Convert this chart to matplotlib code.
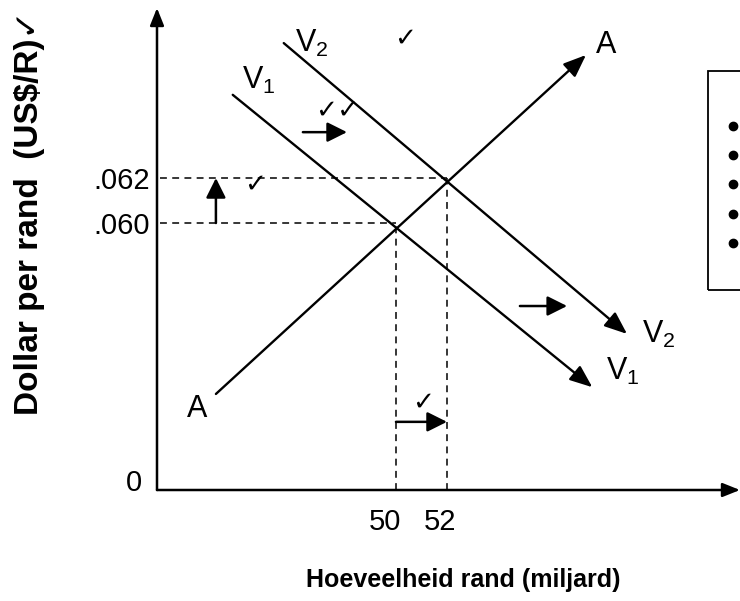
import matplotlib
matplotlib.use("Agg")
import matplotlib.pyplot as plt
from matplotlib.patches import Rectangle

plt.rcParams['font.family'] = ['Liberation Sans', 'DejaVu Sans']
plt.rcParams['mathtext.fontset'] = 'custom'
plt.rcParams['mathtext.rm'] = 'Liberation Sans'
plt.rcParams['mathtext.default'] = 'regular'

# quantity (miljard rand) and price (US$/R) values
q_eq = [50, 52]
p_eq = [0.060, 0.062]

# curve end points: (start q, start p) -> (end q, end p)
v1_q = [43.6, 57.7]
v1_p = [0.0657, 0.0527]
v2_q = [45.6, 59.06]
v2_p = [0.0680, 0.05507]
a_q = [42.94, 57.45]
a_p = [0.0524, 0.06747]

# curve labels
lab_text = ['V$_1$', 'V$_2$', 'A', 'A', 'V$_2$', 'V$_1$']
lab_q = [43.96, 46.04, 57.84, 41.80, 59.65, 58.24]
lab_p = [0.06596, 0.0676, 0.06756, 0.05138, 0.05467, 0.05302]

# tick marks (memo checks)
chk_text = ['\u2713', '\u2713\u2713', '\u2713', '\u2713']
chk_q = [50.35, 47.69, 44.47, 51.06]
chk_p = [0.06822, 0.06502, 0.06169, 0.0520]

# shift arrows
shift_q0 = [46.35, 54.86]
shift_q1 = [48.08, 56.71]
shift_p = [0.06404, 0.05631]
up_q = 42.94
bottom_p = 0.05116

# box with bullets on the right
box_q = 62.24
box_p = [0.05702, 0.06676]
bullet_q = 63.22
bullet_p = [0.06431, 0.06302, 0.06173, 0.0604, 0.05911]

xmin, xmax = 40.63, 63.49
ymin, ymax = 0.04813, 0.06956

fig = plt.figure(figsize=(7.4, 6.01), dpi=100)
ax = fig.add_axes([157 / 740, 111 / 601, 583 / 740, 482 / 601])
ax.set_xlim(xmin, xmax)
ax.set_ylim(ymin, ymax)
for s in ax.spines.values():
    s.set_visible(False)

axis_arrow = dict(arrowstyle='-|>,head_length=0.5,head_width=0.2', lw=1.8,
                  color='black', mutation_scale=21, shrinkA=0, shrinkB=0)
ax.annotate('', xy=(0, 1), xytext=(0, 0), xycoords='axes fraction', arrowprops=axis_arrow, annotation_clip=False)
ax.annotate('', xy=(1, 0), xytext=(0, 0), xycoords='axes fraction', arrowprops=axis_arrow, annotation_clip=False)

line_arrow = dict(arrowstyle='-|>,head_length=0.55,head_width=0.22', lw=1.7,
                  color='black', mutation_scale=25, shrinkA=0, shrinkB=0)

# demand curves with arrowheads, supply curve
ax.annotate('', xy=(v1_q[1], v1_p[1]), xytext=(v1_q[0], v1_p[0]), arrowprops=line_arrow)
ax.annotate('', xy=(v2_q[1], v2_p[1]), xytext=(v2_q[0], v2_p[0]), arrowprops=line_arrow)
ax.annotate('', xy=(a_q[1], a_p[1]), xytext=(a_q[0], a_p[0]), arrowprops=line_arrow)

# dashed guide lines
dash = dict(color='black', lw=1.1, linestyle=(0, (4.5, 3.5)))
for q, p in zip(q_eq, p_eq):
    ax.plot([xmin + 0.12, q], [p, p], **dash)
    ax.plot([q, q], [ymin, p], **dash)

small_arrow = dict(arrowstyle='-|>,head_length=0.6,head_width=0.3', lw=1.8,
                   color='black', mutation_scale=20, shrinkA=0, shrinkB=0)
for q0, q1, p in zip(shift_q0, shift_q1, shift_p):
    ax.annotate('', xy=(q1, p), xytext=(q0, p), arrowprops=small_arrow)
ax.annotate('', xy=(up_q, p_eq[1]), xytext=(up_q, p_eq[0]), arrowprops=small_arrow)
ax.annotate('', xy=(q_eq[1], bottom_p), xytext=(q_eq[0], bottom_p), arrowprops=small_arrow)

for t, q, p in zip(lab_text, lab_q, lab_p):
    ax.text(q, p, t, fontsize=22, ha='left', va='baseline')

for t, q, p in zip(chk_text, chk_q, chk_p):
    ax.text(q, p, t, fontsize=19, ha='center', va='center', family='DejaVu Sans')

ax.add_patch(Rectangle((box_q, box_p[0]), 5, box_p[1] - box_p[0], fill=False,
                       lw=1.3, edgecolor='black', clip_on=False))
ax.plot([bullet_q] * len(bullet_p), bullet_p, 'o', color='black', ms=6, clip_on=False)

ax.set_xticks(q_eq)
ax.set_xticklabels([])
for q, t, dx in zip(q_eq, ['50', '52'], [-8, -5]):
    ax.annotate(t, xy=(q, ymin), xytext=(dx, -13), textcoords='offset points',
                ha='center', va='top', fontsize=21)
ax.set_yticks(p_eq)
ax.set_yticklabels(['.060', '.062'])
ax.tick_params(length=0, labelsize=21)
ax.tick_params(axis='y', pad=5)
ax.annotate('0', xy=(0, 0), xycoords='axes fraction', xytext=(-11, 5),
            textcoords='offset points', ha='right', va='center', fontsize=21)

fig.text(30 / 740, 1 - 213 / 601, 'Dollar per rand  (US$/R)\u2713', rotation=90,
         ha='center', va='center', fontsize=24, fontweight='bold')
fig.text(463 / 740, 1 - 580 / 601, 'Hoeveelheid rand (miljard)', ha='center',
         va='center', fontsize=18, fontweight='bold')

fig.savefig('out.png', dpi=100)
